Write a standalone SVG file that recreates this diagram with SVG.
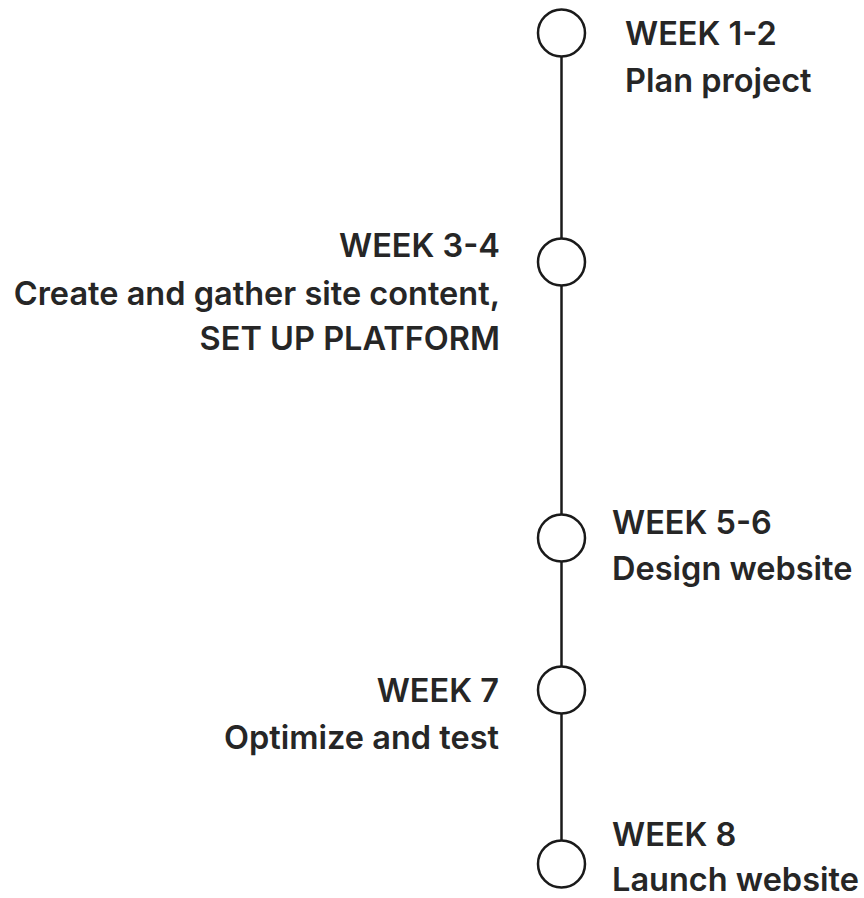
<svg xmlns="http://www.w3.org/2000/svg" width="864" height="898" viewBox="0 0 864 898">
<style>
.t{font-family:Inter,"Open Sans","Liberation Sans",sans-serif;font-weight:600;font-size:32.5px;fill:#262626}
.r{text-anchor:end}
.c{fill:#fff;stroke:#1a1a1a;stroke-width:2.5}
.ln{stroke:#1a1a1a;stroke-width:2.5;fill:none}
</style>
<rect width="864" height="898" fill="#fff"/>
<g id="connectors">
<line class="ln" x1="561.5" y1="33" x2="561.5" y2="864"/>
</g>
<g id="n1"><circle class="c" cx="561.5" cy="33" r="23.5"/><text class="t" x="625" y="45">WEEK 1-2</text><text class="t" x="625" y="92">Plan project</text></g>
<g id="n2"><circle class="c" cx="561.5" cy="262" r="23.5"/><text class="t r" x="500" y="257">WEEK 3-4</text><text class="t r" x="500" y="305">Create and gather site content,</text><text class="t r" x="500" y="350">SET UP PLATFORM</text></g>
<g id="n3"><circle class="c" cx="561.5" cy="538" r="23.5"/><text class="t" x="612" y="534">WEEK 5-6</text><text class="t" x="612" y="580">Design website</text></g>
<g id="n4"><circle class="c" cx="561.5" cy="690" r="23.5"/><text class="t r" x="499" y="702">WEEK 7</text><text class="t r" x="499" y="749">Optimize and test</text></g>
<g id="n5"><circle class="c" cx="561.5" cy="864" r="23.5"/><text class="t" x="612" y="846">WEEK 8</text><text class="t" x="612" y="891">Launch website</text></g>
</svg>
